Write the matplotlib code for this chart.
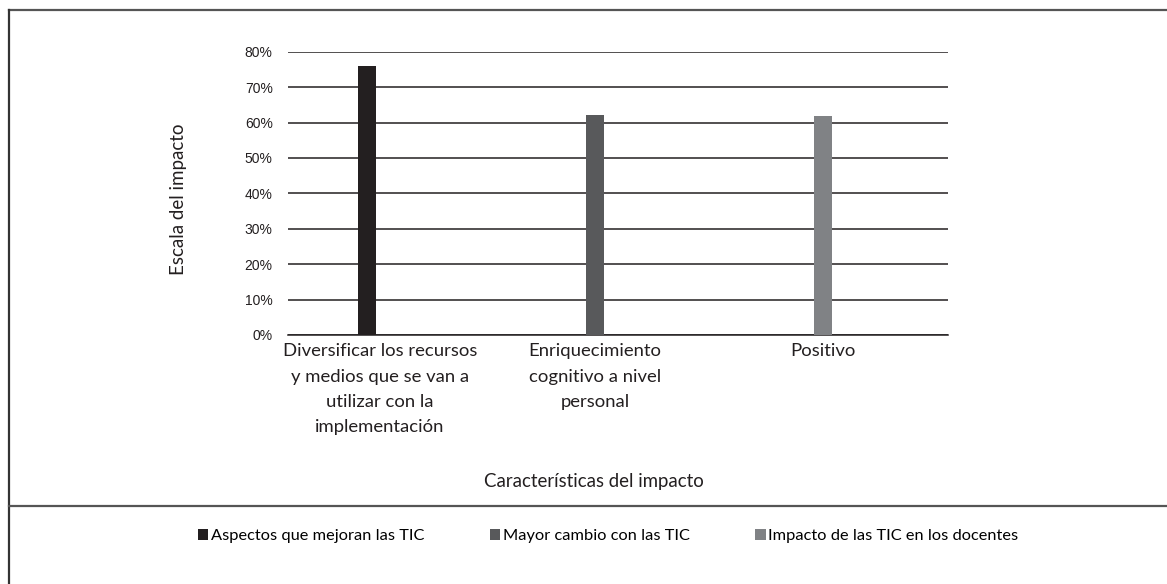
import matplotlib
matplotlib.use("Agg")
import matplotlib.pyplot as plt
import matplotlib.transforms as mtransforms
from matplotlib.lines import Line2D
from matplotlib.patches import Patch
from matplotlib.ticker import PercentFormatter

categories = [
    "Diversificar los recursos\ny medios que se van a\nutilizar con la\nimplementación",
    "Enriquecimiento\ncognitivo a nivel\npersonal",
    "Positivo",
]
series_names = [
    "Aspectos que mejoran las TIC",
    "Mayor cambio con las TIC",
    "Impacto de las TIC en los docentes",
]
values = [76, 62, 61.8]
colors = ["#231f20", "#58595b", "#808285"]
yticks = [0, 10, 20, 30, 40, 50, 60, 70, 80]

W, H = 1167, 584
fig = plt.figure(figsize=(W / 100, H / 100), dpi=100)
font = "Lato"

ax = fig.add_axes([288 / W, 1 - 335 / H, 660 / W, (335 - 51.7) / H])

for i, (v, c) in enumerate(zip(values, colors)):
    ax.bar(i, v, width=0.08, color=c, zorder=3, label=series_names[i])

ax.set_xlim(-0.346, 2.548)
ax.set_ylim(0, 80)
ax.set_yticks(yticks)
ax.yaxis.set_major_formatter(PercentFormatter(decimals=0))
ax.grid(axis="y", color="#231f20", lw=1.1, zorder=1)
ax.set_axisbelow(True)
for s in ["left", "right", "top"]:
    ax.spines[s].set_visible(False)
ax.spines["bottom"].set_color("#231f20")
ax.spines["bottom"].set_linewidth(1.1)

ax.set_xticks(range(len(categories)))
ax.set_xticklabels(categories, fontsize=13.3, family=font, color="#231f20",
                   linespacing=1.72, ha="center", va="top")
ax.tick_params(axis="x", length=0, pad=6)
ax.tick_params(axis="y", length=0, pad=11, labelsize=10, labelcolor="#231f20")
for t in ax.get_yticklabels():
    t.set_family("Liberation Sans")

# the first (long) label sits a little right of its bar in the original
lab0 = ax.get_xticklabels()[0]
lab0.set_transform(lab0.get_transform() +
                   mtransforms.ScaledTranslation(13 / 100, 0, fig.dpi_scale_trans))

ax.set_ylabel("Escala del impacto", fontsize=13.5, family=font, color="#231f20")
ax.yaxis.set_label_coords((187 - 288) / 660, 0.48)

fig.text(593.5 / W, 1 - 482 / H, "Características del impacto", fontsize=13.4,
         family=font, color="#231f20", ha="center", va="center")

handles = [Patch(facecolor=c, edgecolor="none") for c in colors]
fig.legend(handles, series_names, loc="center", bbox_to_anchor=(608 / W, 1 - 536 / H),
           ncol=3, frameon=False, handlelength=0.65, handleheight=0.65,
           handletextpad=0.15, columnspacing=4.0,
           prop={"family": font, "size": 11.8})

# frame lines around the chart area
lc = "#555555"
fig.add_artist(Line2D([9 / W, 1], [1 - 10 / H, 1 - 10 / H], color=lc, lw=1.6))
fig.add_artist(Line2D([9 / W, 9 / W], [0, 1 - 10 / H], color="#333333", lw=1.6))
fig.add_artist(Line2D([9 / W, 1], [1 - 506 / H, 1 - 506 / H], color=lc, lw=1.6))

fig.savefig("out.png", dpi=100)
